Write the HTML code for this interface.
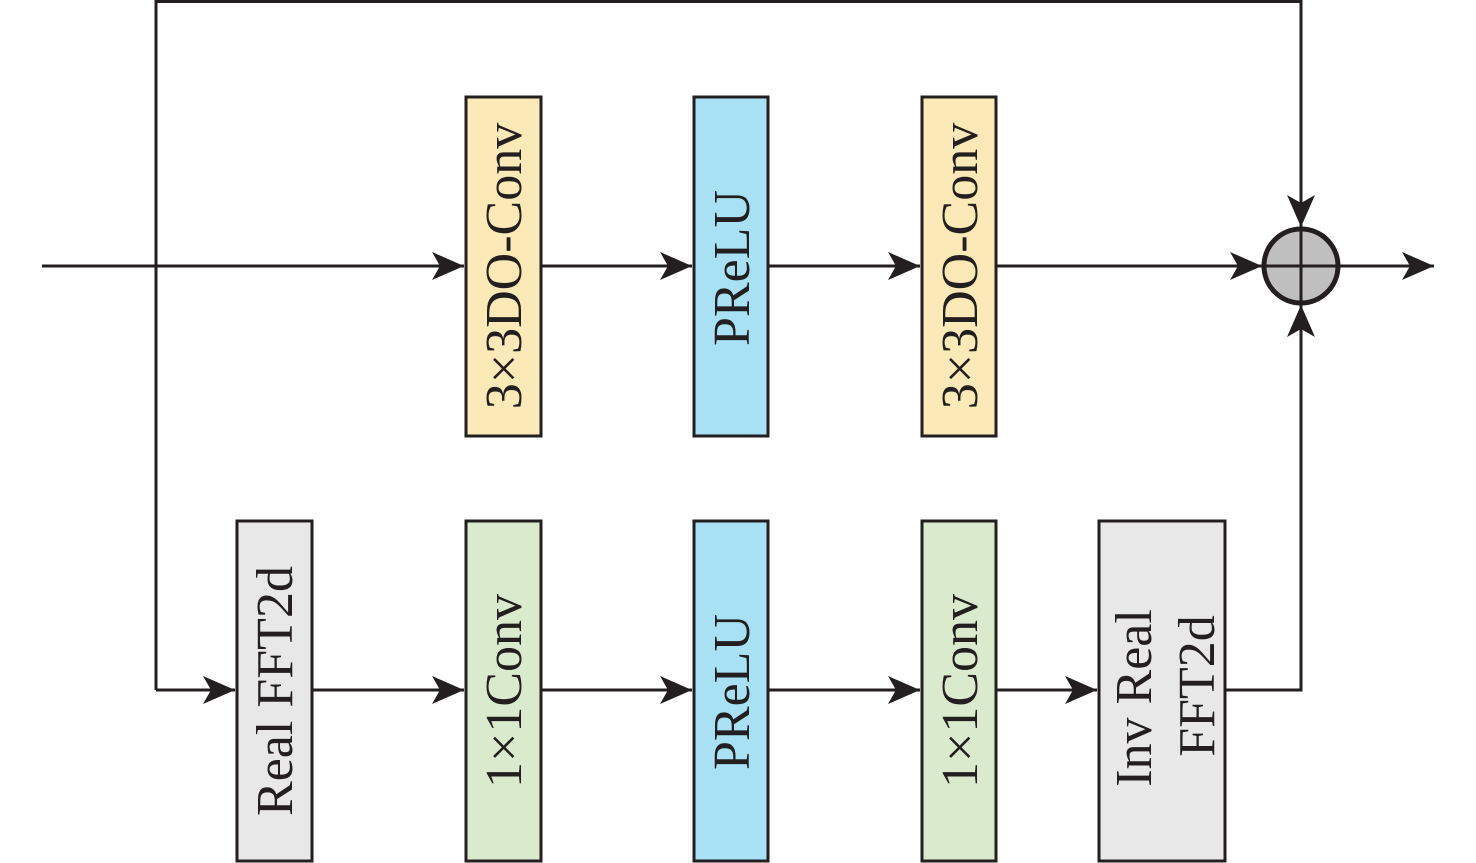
<!DOCTYPE html>
<html><head><meta charset="utf-8"><style>
html,body{margin:0;padding:0;background:#fff;}
svg{display:block;}
text{font-family:"Liberation Serif",serif;font-size:52px;fill:#231f20;}
</style></head><body>
<svg width="1476" height="863" viewBox="0 0 1476 863" xmlns="http://www.w3.org/2000/svg">
<defs>
<marker id="a" markerWidth="34" markerHeight="28" refX="32" refY="14" orient="auto" markerUnits="userSpaceOnUse">
<path d="M0,0 L32,14 L0,28 L8,14 Z" fill="#231f20"/>
</marker>
</defs>
<g stroke="#231f20" stroke-width="3" fill="none">
<polyline points="156,690 156,1.5 1301,1.5 1301,227" marker-end="url(#a)"/>
<line x1="156" y1="690" x2="235" y2="690" marker-end="url(#a)"/>
<line x1="42" y1="266" x2="464" y2="266" marker-end="url(#a)"/>
<line x1="541" y1="266" x2="692" y2="266" marker-end="url(#a)"/>
<line x1="768" y1="266" x2="920" y2="266" marker-end="url(#a)"/>
<line x1="996" y1="266" x2="1262" y2="266" marker-end="url(#a)"/>
<line x1="1338" y1="266" x2="1434" y2="266" marker-end="url(#a)"/>
<line x1="312" y1="690" x2="464" y2="690" marker-end="url(#a)"/>
<line x1="541" y1="690" x2="692" y2="690" marker-end="url(#a)"/>
<line x1="768" y1="690" x2="920" y2="690" marker-end="url(#a)"/>
<line x1="996" y1="690" x2="1097" y2="690" marker-end="url(#a)"/>
<polyline points="1225,690 1301,690 1301,305" marker-end="url(#a)"/>
</g>
<g stroke="#231f20" stroke-width="3">
<rect x="466" y="97" width="75" height="339" fill="#fbe9b7"/>
<rect x="694" y="97" width="74" height="339" fill="#a7e1f3"/>
<rect x="922" y="97" width="74" height="339" fill="#fbe9b7"/>
<rect x="237" y="521" width="75" height="340" fill="#e8e8e8"/>
<rect x="466" y="521" width="75" height="340" fill="#d9ebcc"/>
<rect x="694" y="521" width="74" height="340" fill="#a7e1f3"/>
<rect x="922" y="521" width="74" height="340" fill="#d9ebcc"/>
<rect x="1099" y="521" width="126" height="340" fill="#e8e8e8"/>
<circle cx="1301" cy="266" r="37" fill="#bfbfbf" stroke-width="5"/>
<line x1="1301" y1="229" x2="1301" y2="303" stroke-width="3"/>
<line x1="1264" y1="266" x2="1338" y2="266" stroke-width="3"/>
</g>
<g text-anchor="middle">
<text transform="translate(521,266) rotate(-90)">3×3DO-Conv</text>
<text transform="translate(749,268) rotate(-90)">PReLU</text>
<text transform="translate(977,266) rotate(-90)">3×3DO-Conv</text>
<text transform="translate(292,691) rotate(-90)">Real FFT2d</text>
<text transform="translate(521,691) rotate(-90)">1×1Conv</text>
<text transform="translate(749,692) rotate(-90)">PReLU</text>
<text transform="translate(977,691) rotate(-90)">1×1Conv</text>
<text transform="translate(1151,698) rotate(-90)">Inv Real</text>
<text transform="translate(1214,686) rotate(-90)">FFT2d</text>
</g>
</svg>
</body></html>
